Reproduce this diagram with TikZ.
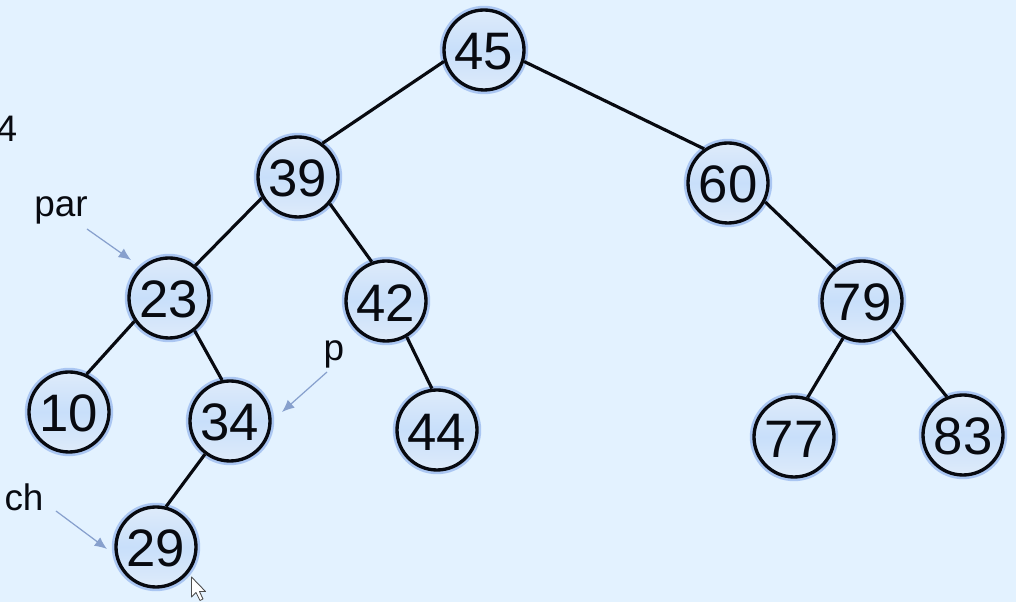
\documentclass[tikz,border=0pt]{standalone}
\usepackage{xcolor}
\usepackage{fontspec}
\setmainfont{Liberation Sans}
\usetikzlibrary{arrows.meta, positioning}
\definecolor{mybg}{RGB}{227,242,255}
\definecolor{mydark}{RGB}{8,10,16}
\definecolor{myfill}{RGB}{200,223,250}
\definecolor{myrim}{RGB}{222,235,250}
\definecolor{myglow}{RGB}{170,198,242}
\definecolor{myptr}{RGB}{135,160,205}
\tikzset{
  treenode/.style={circle, draw=mydark, line width=1.9pt, minimum size=1.6cm, inner sep=0pt,
    top color=myrim, bottom color=myrim, middle color=myfill,
    font=\fontsize{30}{33}\selectfont, text=mydark, text height=23pt,
    preaction={draw=myglow, line width=4.8pt}},
  lbl/.style={font=\fontsize{21}{24}\selectfont, text=mydark, inner sep=0pt},
  edge/.style={line width=1.8pt, color=mydark},
  ptr/.style={-{Latex[length=7pt, width=6pt]}, line width=0.7pt, color=myptr}
}
\begin{document}
\begin{tikzpicture}
  \useasboundingbox[fill=mybg] (0,0) rectangle (20.32,12.04);

  % Tree nodes
  \node[treenode] (n45) at (9.68, 11.04) {45};
  \node[treenode] (n39) at (5.96, 8.50) {39};
  \node[treenode] (n60) at (14.56, 8.38) {60};
  \node[treenode] (n23) at (3.38, 6.08) {23};
  \node[treenode] (n42) at (7.72, 6.02) {42};
  \node[treenode] (n79) at (17.24, 6.02) {79};
  \node[treenode] (n10) at (1.38, 3.80) {10};
  \node[treenode] (n34) at (4.60, 3.62) {34};
  \node[treenode] (n44) at (8.74, 3.44) {44};
  \node[treenode] (n77) at (15.88, 3.30) {77};
  \node[treenode] (n83) at (19.26, 3.34) {83};
  \node[treenode] (n29) at (3.12, 1.10) {29};

  % Paths
  \draw[edge] (n45.196) -- (n39.54);
  \draw[edge] (n45.-16) -- (n60.125);
  \draw[edge] (n39.210) -- (n23.51);
  \draw[edge] (n39.-40) -- (n42.110);
  \draw[edge] (n60.-27) -- (n79.130);
  \draw[edge] (n23.214) -- (n10.65);
  \draw[edge] (n23.-52) -- (n34.101);
  \draw[edge] (n42.-60) -- (n44.97);
  \draw[edge] (n79.243) -- (n77.71);
  \draw[edge] (n79.-43) -- (n83.113);
  \draw[edge] (n34.233) -- (n29.76);

  % Labels
  \node[lbl] (num4) at (0.14, 9.46) {4};
  \node[lbl] (par) at (1.22, 7.84) {par};
  \node[lbl] (p) at (6.68, 4.96) {p};
  \node[lbl] (ch) at (0.48, 2.10) {ch};

  % Pointers
  \coordinate (parS) at (1.74, 7.46);
  \coordinate (parE) at (2.62, 6.84);
  \coordinate (pS) at (6.54, 4.60);
  \coordinate (pE) at (5.64, 3.80);
  \coordinate (chS) at (1.12, 1.82);
  \coordinate (chE) at (2.14, 1.06);
  \draw[ptr] (parS) -- (parE);
  \draw[ptr] (pS) -- (pE);
  \draw[ptr] (chS) -- (chE);

  % Mouse cursor
  \draw[fill=white, draw=black!70, line width=0.5pt, line join=round]
    (3.83, 0.50) -- (3.83, 0.10) -- (3.92, 0.19) -- (4.00, 0.03) -- (4.06, 0.06)
    -- (3.99, 0.21) -- (4.11, 0.21) -- cycle;
\end{tikzpicture}
\end{document}
